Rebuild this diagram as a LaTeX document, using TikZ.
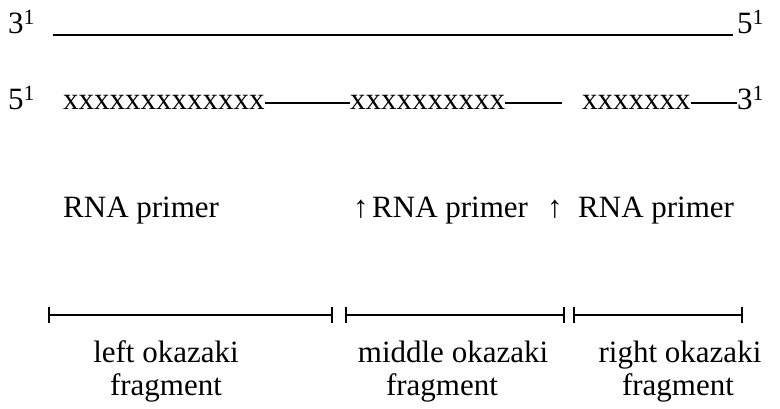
\documentclass[tikz,border=0pt]{standalone}
\usepackage{fontspec}
\setmainfont{Liberation Serif}
\usetikzlibrary{arrows.meta}
\tikzset{
  txt/.style={inner sep=0pt, anchor=base west, font=\fontsize{31}{37}\selectfont},
  lbl/.style={inner sep=0pt, anchor=base, font=\fontsize{31}{37}\selectfont},
  upar/.style={inner sep=0pt, anchor=base west, font=\fontsize{31}{37}\selectfont},
  strand/.style={line width=1.8pt},
  dashline/.style={line width=1.6pt},
  spanline/.style={line width=1.1pt, {Bar[width=16pt,line width=1.8pt]}-{Bar[width=16pt,line width=1.8pt]}}
}
\begin{document}
\begin{tikzpicture}[x=1pt,y=-1pt]
\useasboundingbox[fill=white] (0,0) rectangle (780,409);
% row 1
\node[txt] (t3) at (8,34) {3\textsuperscript{1}};
\node[txt] (t5) at (737,34) {5\textsuperscript{1}};
\coordinate (ta) at (53,35);
\coordinate (tb) at (733,35);
\draw[strand] (ta) -- (tb);
% row 2
\node[txt] (b5) at (8,110) {5\textsuperscript{1}};
\node[txt] (g1) at (63,110) {xxxxxxxxxxxxx};
\node[txt] (g2) at (350,110) {xxxxxxxxxx};
\node[txt] (g3) at (582,110) {xxxxxxx};
\node[txt] (b3) at (737,110) {3\textsuperscript{1}};
\coordinate (d2e) at (562,103);
\draw[dashline] ([yshift=7pt]g1.base east) -- ([yshift=7pt]g2.base west);
\draw[dashline] ([yshift=7pt]g2.base east) -- (d2e);
\draw[dashline] ([yshift=7pt]g3.base east) -- ([yshift=7pt]b3.base west);
% row 3
\node[txt] (p1) at (63,218) {RNA primer};
\node[upar] (u1) at (353,218) {↑};
\node[txt] (p2) at (372,218) {RNA primer};
\node[upar] (u2) at (547,218) {↑};
\node[txt] (p3) at (578,218) {RNA primer};
% row 4
\coordinate (s1a) at (48,315);
\coordinate (s1b) at (333,315);
\coordinate (s2a) at (345,315);
\coordinate (s2b) at (565,315);
\coordinate (s3a) at (573,315);
\coordinate (s3b) at (743,315);
\draw[spanline] (s1a) -- (s1b);
\draw[spanline] (s2a) -- (s2b);
\draw[spanline] (s3a) -- (s3b);
% row 5
\node[lbl] (la) at (166,362) {left okazaki};
\node[lbl] (lb) at (166,395) {fragment};
\node[lbl] (ma) at (453,362) {middle okazaki};
\node[lbl] (mb) at (442,395) {fragment};
\node[lbl] (ra) at (680,362) {right okazaki};
\node[lbl] (rb) at (678,395) {fragment};
\end{tikzpicture}
\end{document}
